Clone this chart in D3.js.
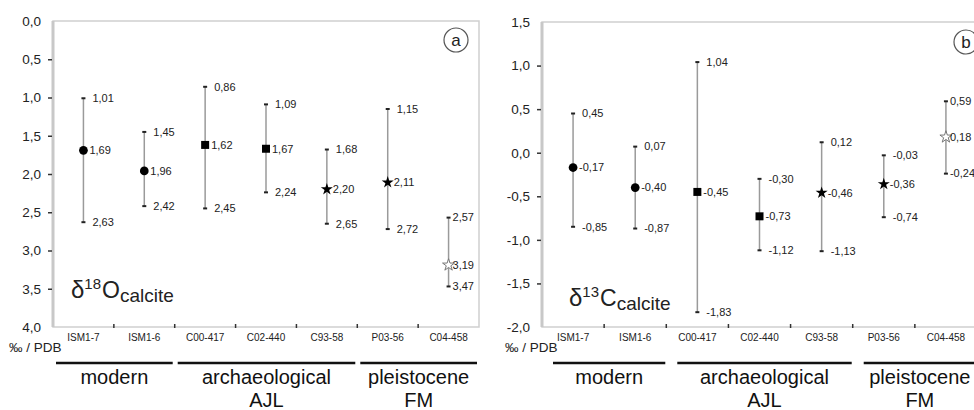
<!DOCTYPE html>
<html>
<head>
<meta charset="utf-8">
<script src="https://cdn.jsdelivr.net/npm/d3@7"></script>
<style>
  body { margin: 0; background: #fff; }
  svg { display: block; font-family: "Liberation Sans", Arial, sans-serif; }
  .tick text { fill: #222; }
</style>
</head>
<body>
<svg id="fig" width="974" height="410"></svg>
<script>
// samples and marker style per sample
const samples = ["ISM1-7", "ISM1-6", "C00-417", "C02-440", "C93-58", "P03-56", "C04-458"];
const markers = ["circle", "circle", "square", "square", "star", "star", "openstar"];

// delta 18O (panel a)
const o18Mean = [1.69, 1.96, 1.62, 1.67, 2.20, 2.11, 3.19];
const o18Top = [1.01, 1.45, 0.86, 1.09, 1.68, 1.15, 2.57];
const o18Bottom = [2.63, 2.42, 2.45, 2.24, 2.65, 2.72, 3.47];
const o18Ticks = [0, 0.5, 1, 1.5, 2, 2.5, 3, 3.5, 4];

// delta 13C (panel b)
const c13Mean = [-0.17, -0.40, -0.45, -0.73, -0.46, -0.36, 0.18];
const c13Top = [0.45, 0.07, 1.04, -0.30, 0.12, -0.03, 0.59];
const c13Bottom = [-0.85, -0.87, -1.83, -1.12, -1.13, -0.74, -0.24];
const c13Ticks = [1.5, 1, 0.5, 0, -0.5, -1, -1.5, -2];

// groups below the axis
const groupNames = ["modern", "archaeological", "pleistocene"];
const groupSubs = ["", "AJL", "FM"];
const groupSpans = [[0, 1], [2, 4], [5, 6]];

const loc = d3.formatLocale({decimal: ",", thousands: ".", grouping: [3], currency: ["", ""], minus: "-"});
const f1 = loc.format(".1f");
const f2 = loc.format(".2f");

const svg = d3.select("#fig");

function panel(svg, p) {
    const g = svg.append("g");
    const x = d3.scaleBand().domain(samples).range([p.x0, p.x1]);
    const y = d3.scaleLinear().domain(p.domain).range([p.y0, p.y1]);

    // frame
    g.append("rect")
        .attr("x", p.x0).attr("y", p.y0)
        .attr("width", p.x1 - p.x0).attr("height", p.y1 - p.y0)
        .attr("fill", "none").attr("stroke", "#cfcfcf").attr("stroke-width", 1.5);
    g.append("line")
        .attr("x1", p.x0).attr("x2", p.x0).attr("y1", p.y0).attr("y2", p.y1)
        .attr("stroke", "#c8c8c8").attr("stroke-width", 3);

    // y axis
    const yAxis = d3.axisLeft(y).tickValues(p.ticks).tickSize(4).tickPadding(7).tickFormat(f1);
    const ya = g.append("g").attr("transform", `translate(${p.x0 - 1},0)`).call(yAxis);
    ya.select(".domain").remove();
    ya.selectAll(".tick line").attr("stroke", "#333").attr("stroke-width", 1.5);
    ya.selectAll(".tick line").filter(d => d === p.ticks[0] || d === p.ticks[p.ticks.length - 1]).remove();
    ya.selectAll("text").attr("font-size", 13.5).attr("font-family", null);

    // x axis labels
    const xAxis = d3.axisBottom(x).tickSize(0).tickPadding(7);
    const xa = g.append("g").attr("transform", `translate(0,${p.y1})`).call(xAxis);
    xa.select(".domain").remove();
    xa.selectAll("text").attr("font-size", 10).attr("font-family", null).attr("fill", "#333");

    // boundary ticks
    g.selectAll(".btick")
        .data(samples.slice(1))
        .join("line")
        .attr("x1", d => x(d)).attr("x2", d => x(d))
        .attr("y1", p.y1 - 3).attr("y2", p.y1 + 1)
        .attr("stroke", "#333").attr("stroke-width", 1.5);

    const rows = samples.map((s, i) => ({s, i, m: p.mean[i], t: p.top[i], b: p.bottom[i], k: markers[i]}));
    const cx = d => x(d.s) + x.bandwidth() / 2;
    const last = samples.length - 1;

    const bars = g.selectAll(".bar").data(rows).join("g");
    bars.append("line")
        .attr("x1", cx).attr("x2", cx)
        .attr("y1", d => y(d.t)).attr("y2", d => y(d.b))
        .attr("stroke", "#9a9a9a").attr("stroke-width", 1.5);
    ["t", "b"].forEach(k => {
        bars.append("line")
            .attr("x1", d => cx(d) - 2).attr("x2", d => cx(d) + 2)
            .attr("y1", d => y(d[k])).attr("y2", d => y(d[k]))
            .attr("stroke", "#222").attr("stroke-width", 2);
        bars.append("text")
            .attr("x", d => cx(d) + (d.i === last ? 4 : 9))
            .attr("y", d => y(d[k]))
            .attr("dy", "0.35em")
            .attr("font-size", 11).attr("fill", "#222")
            .text(d => f2(d[k]));
    });

    const sym = {
        circle: d3.symbol(d3.symbolCircle, 60),
        square: d3.symbol(d3.symbolSquare, 64),
        star: d3.symbol(d3.symbolStar, 45),
        openstar: d3.symbol(d3.symbolStar, 45)
    };
    bars.append("path")
        .attr("transform", d => `translate(${cx(d)},${y(d.m)})`)
        .attr("d", d => sym[d.k]())
        .attr("fill", d => d.k === "openstar" ? "#fff" : "#000")
        .attr("stroke", d => d.k === "openstar" ? "#777" : "none");
    bars.append("text")
        .attr("x", d => cx(d) + (d.i === last ? 4 : 6))
        .attr("y", d => y(d.m))
        .attr("dy", "0.35em")
        .attr("font-size", 11).attr("fill", "#222")
        .text(d => f2(d.m));

    // units
    g.append("text")
        .attr("x", p.unitX).attr("y", 352)
        .attr("font-size", 13.5).attr("fill", "#222")
        .text("‰ / PDB");

    // title
    const t = g.append("text").attr("x", p.titleX).attr("y", p.titleY).attr("fill", "#222");
    t.append("tspan").attr("font-size", 24).text("δ");
    t.append("tspan").attr("font-size", 15).attr("dy", -9).text(p.title[0]);
    t.append("tspan").attr("font-size", 23).attr("dy", 9).attr("dx", 1).text(p.title[1]);
    t.append("tspan").attr("font-size", 19).attr("dy", 4).text("calcite");

    // badge
    g.append("circle").attr("cx", p.badgeX).attr("cy", p.badgeY).attr("r", 12)
        .attr("fill", "#fff").attr("stroke", "#555").attr("stroke-width", 1.2);
    g.append("text").attr("x", p.badgeX).attr("y", p.badgeY).attr("dy", "0.35em")
        .attr("text-anchor", "middle").attr("font-size", 17).attr("fill", "#222")
        .text(p.badge);

    // groups
    groupNames.forEach((name, gi) => {
        const [a, b] = groupSpans[gi];
        const gx0 = x(samples[a]) + p.gShift[0];
        const gx1 = x(samples[b]) + x.bandwidth() + p.gShift[1];
        const mid = (gx0 + gx1) / 2;
        g.append("line")
            .attr("x1", gx0).attr("x2", gx1).attr("y1", 363).attr("y2", 363)
            .attr("stroke", "#111").attr("stroke-width", 2.5);
        g.append("text")
            .attr("x", mid).attr("y", 384).attr("text-anchor", "middle")
            .attr("font-size", 20).attr("fill", "#111").text(name);
        if (groupSubs[gi]) {
            g.append("text")
                .attr("x", mid).attr("y", 407).attr("text-anchor", "middle")
                .attr("font-size", 20).attr("fill", "#111").text(groupSubs[gi]);
        }
    });
}

panel(svg, {
    x0: 53, x1: 479, y0: 21, y1: 327, domain: [0, 4], ticks: o18Ticks,
    mean: o18Mean, top: o18Top, bottom: o18Bottom,
    title: ["18", "O"], titleX: 71, titleY: 298,
    badge: "a", badgeX: 456, badgeY: 40,
    unitX: 9, gShift: [3, -2]
});

panel(svg, {
    x0: 542, x1: 977, y0: 22, y1: 327, domain: [1.5, -2], ticks: c13Ticks,
    mean: c13Mean, top: c13Top, bottom: c13Bottom,
    title: ["13", "C"], titleX: 569, titleY: 306,
    badge: "b", badgeX: 966, badgeY: 42,
    unitX: 505, gShift: [11, -1]
});
</script>
</body>
</html>
